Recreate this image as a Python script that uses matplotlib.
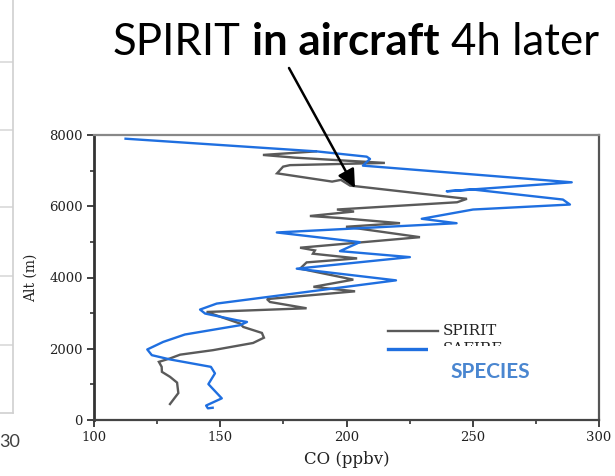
import matplotlib
matplotlib.use("Agg")
import matplotlib.pyplot as plt
from matplotlib.patches import Rectangle, FancyArrowPatch
from matplotlib.lines import Line2D
from matplotlib.ticker import MultipleLocator

# CO profiles (ppbv) against altitude (m)
spirit_co = [187.9, 166.9, 179.6, 215.2, 177.6, 174.9, 172.5, 194.3, 197.8, 201.4,
             247.7, 243.8, 196.2, 203.0, 185.5, 197.4, 221.2, 199.8, 229.1, 181.6,
             187.5, 186.7, 204.2, 184.2, 181.6, 202.7, 186.9, 203.4, 168.5, 169.7,
             184.2, 144.6, 157.8, 159.1, 166.5, 167.3, 163.0, 147.1, 134.1, 130.1,
             125.7, 126.8, 126.9, 130.1, 132.9, 133.4, 130.1]
spirit_alt = [7540, 7440, 7364, 7216, 7154, 7112, 6924, 6692, 6740, 6580,
              6208, 6112, 5908, 5852, 5726, 5670, 5524, 5424, 5132, 4836,
              4760, 4668, 4536, 4424, 4248, 3940, 3738, 3612, 3394, 3312,
              3136, 3032, 2708, 2612, 2444, 2310, 2162, 1960, 1834, 1728,
              1632, 1492, 1352, 1212, 1050, 756, 448]

safire_co = [112.5, 188.2, 208.0, 209.3, 206.5, 289.2, 239.7, 250.0, 285.7, 288.5,
             250.1, 229.8, 243.6, 172.4, 205.3, 197.4, 225.1, 180.3, 219.6, 148.6,
             142.0, 144.0, 156.6, 160.6, 157.8, 136.0, 127.4, 121.1, 122.9, 130.1,
             146.3, 147.9, 145.3, 150.6, 144.4, 145.1, 147.0]
safire_alt = [7896, 7540, 7392, 7328, 7140, 6672, 6420, 6470, 6188, 6048,
              5908, 5648, 5524, 5264, 4992, 4740, 4572, 4248, 3920, 3268,
              3100, 2988, 2800, 2752, 2660, 2400, 2192, 1980, 1820, 1700,
              1492, 1308, 1008, 608, 406, 328, 344]

x_ticks = [100, 150, 200, 250, 300]
y_ticks = [0, 2000, 4000, 6000, 8000]

W, H = 615, 476
fig = plt.figure(figsize=(W / 100, H / 100), dpi=100)
fig.patch.set_facecolor("white")


def fx(x):
    return x / W


def fy(y):
    return 1 - y / H


serif = "DejaVu Serif"
sans = "Lato"

# faint neighbouring panel on the left edge
side = fig.add_axes([fx(-200), fy(413), fx(212.7), fy(0) - fy(413)])
side.set_xlim(0, 1)
side.set_ylim(413, 0)
for yy in [62, 130, 207, 276, 345]:
    side.axhline(yy, color="#d9d9d9", lw=1.2)
for s in ["left", "top"]:
    side.spines[s].set_visible(False)
for s in ["right", "bottom"]:
    side.spines[s].set_color("#d0d0d0")
    side.spines[s].set_linewidth(1.2)
side.set_yticks([])
side.set_xticks([1 - 3 / 212.7])
side.set_xticklabels(["30"], fontsize=13, family=sans, color="#404040")
side.tick_params(axis="x", length=0, pad=15)

# main profile panel
ax = fig.add_axes([fx(94), fy(420), fx(599) - fx(94), fy(135) - fy(420)])
ax.plot(spirit_co, spirit_alt, color="#5a5a5a", lw=1.7, solid_joinstyle="miter")
ax.plot(safire_co, safire_alt, color="#1f6fe0", lw=1.7)
ax.set_xlim(100, 300)
ax.set_ylim(0, 8000)
ax.set_xticks(x_ticks)
ax.set_yticks(y_ticks)
ax.xaxis.set_minor_locator(MultipleLocator(25))
ax.yaxis.set_minor_locator(MultipleLocator(1000))
ax.tick_params(axis="both", which="major", direction="out", length=5, width=1.3,
               color="#333333", labelsize=9.5, labelcolor="#222222", pad=3)
ax.tick_params(axis="both", which="minor", direction="out", length=3, width=1.2,
               color="#333333")
for lab in ax.get_xticklabels() + ax.get_yticklabels():
    lab.set_family(serif)
ax.spines["left"].set_color("#333333")
ax.spines["left"].set_linewidth(2.0)
ax.spines["bottom"].set_color("#444444")
ax.spines["bottom"].set_linewidth(1.6)
ax.spines["top"].set_color("#888888")
ax.spines["top"].set_linewidth(1.6)
ax.spines["right"].set_color("#555555")
ax.spines["right"].set_linewidth(1.6)

fig.text(fx(347), fy(460), "CO (ppbv)", family=serif, fontsize=12,
         ha="center", va="center", color="#222222")
fig.text(fx(31), fy(278), "Alt (m)", family=serif, fontsize=10, rotation=90,
         ha="center", va="center", color="#222222")

# legend
fig.add_artist(Line2D([fx(388), fx(438)], [fy(331), fy(331)], color="#5a5a5a", lw=1.7))
fig.text(fx(443), fy(331), "SPIRIT", family=serif, fontsize=11, ha="left",
         va="center", color="#222222")
fig.add_artist(Line2D([fx(388), fx(438)], [fy(349), fy(349)], color="#1f6fe0", lw=2.4))
fig.text(fx(443), fy(349), "SAFIRE", family=serif, fontsize=11, ha="left",
         va="center", color="#222222")

# instrument box over the lower legend row
fig.add_artist(Rectangle((fx(428), fy(400)), fx(575) - fx(428), fy(346) - fy(400),
                         transform=fig.transFigure, facecolor="white",
                         edgecolor="none", zorder=5))
fig.text(fx(490.5), fy(372), "SPECIES", family=sans, fontsize=15, weight="bold",
         color="#4a86d0", ha="center", va="center", zorder=6)

# heading with a bold middle phrase
renderer = fig.canvas.get_renderer()
parts = [("SPIRIT", "normal"), ("in aircraft", "bold"), ("4h later", "normal")]
size = 31.5
probe = fig.text(0, 0, "a a", family=sans, fontsize=size)
probe2 = fig.text(0, 0, "aa", family=sans, fontsize=size)
gap = probe.get_window_extent(renderer).width - probe2.get_window_extent(renderer).width
probe.remove()
probe2.remove()
x0 = 113
for txt, wt in parts:
    t = fig.text(fx(x0), fy(55), txt, family=sans, fontsize=size, weight=wt,
                 ha="left", va="baseline", color="black")
    x0 += t.get_window_extent(renderer).width + gap

fig.add_artist(FancyArrowPatch((fx(289), fy(68)), (fx(355), fy(188)),
                               transform=fig.transFigure,
                               arrowstyle="-|>,head_length=0.55,head_width=0.27",
                               mutation_scale=20, color="black", lw=1.8,
                               shrinkA=0, shrinkB=0, zorder=7))

fig.savefig("out.png", dpi=100, facecolor="white")
